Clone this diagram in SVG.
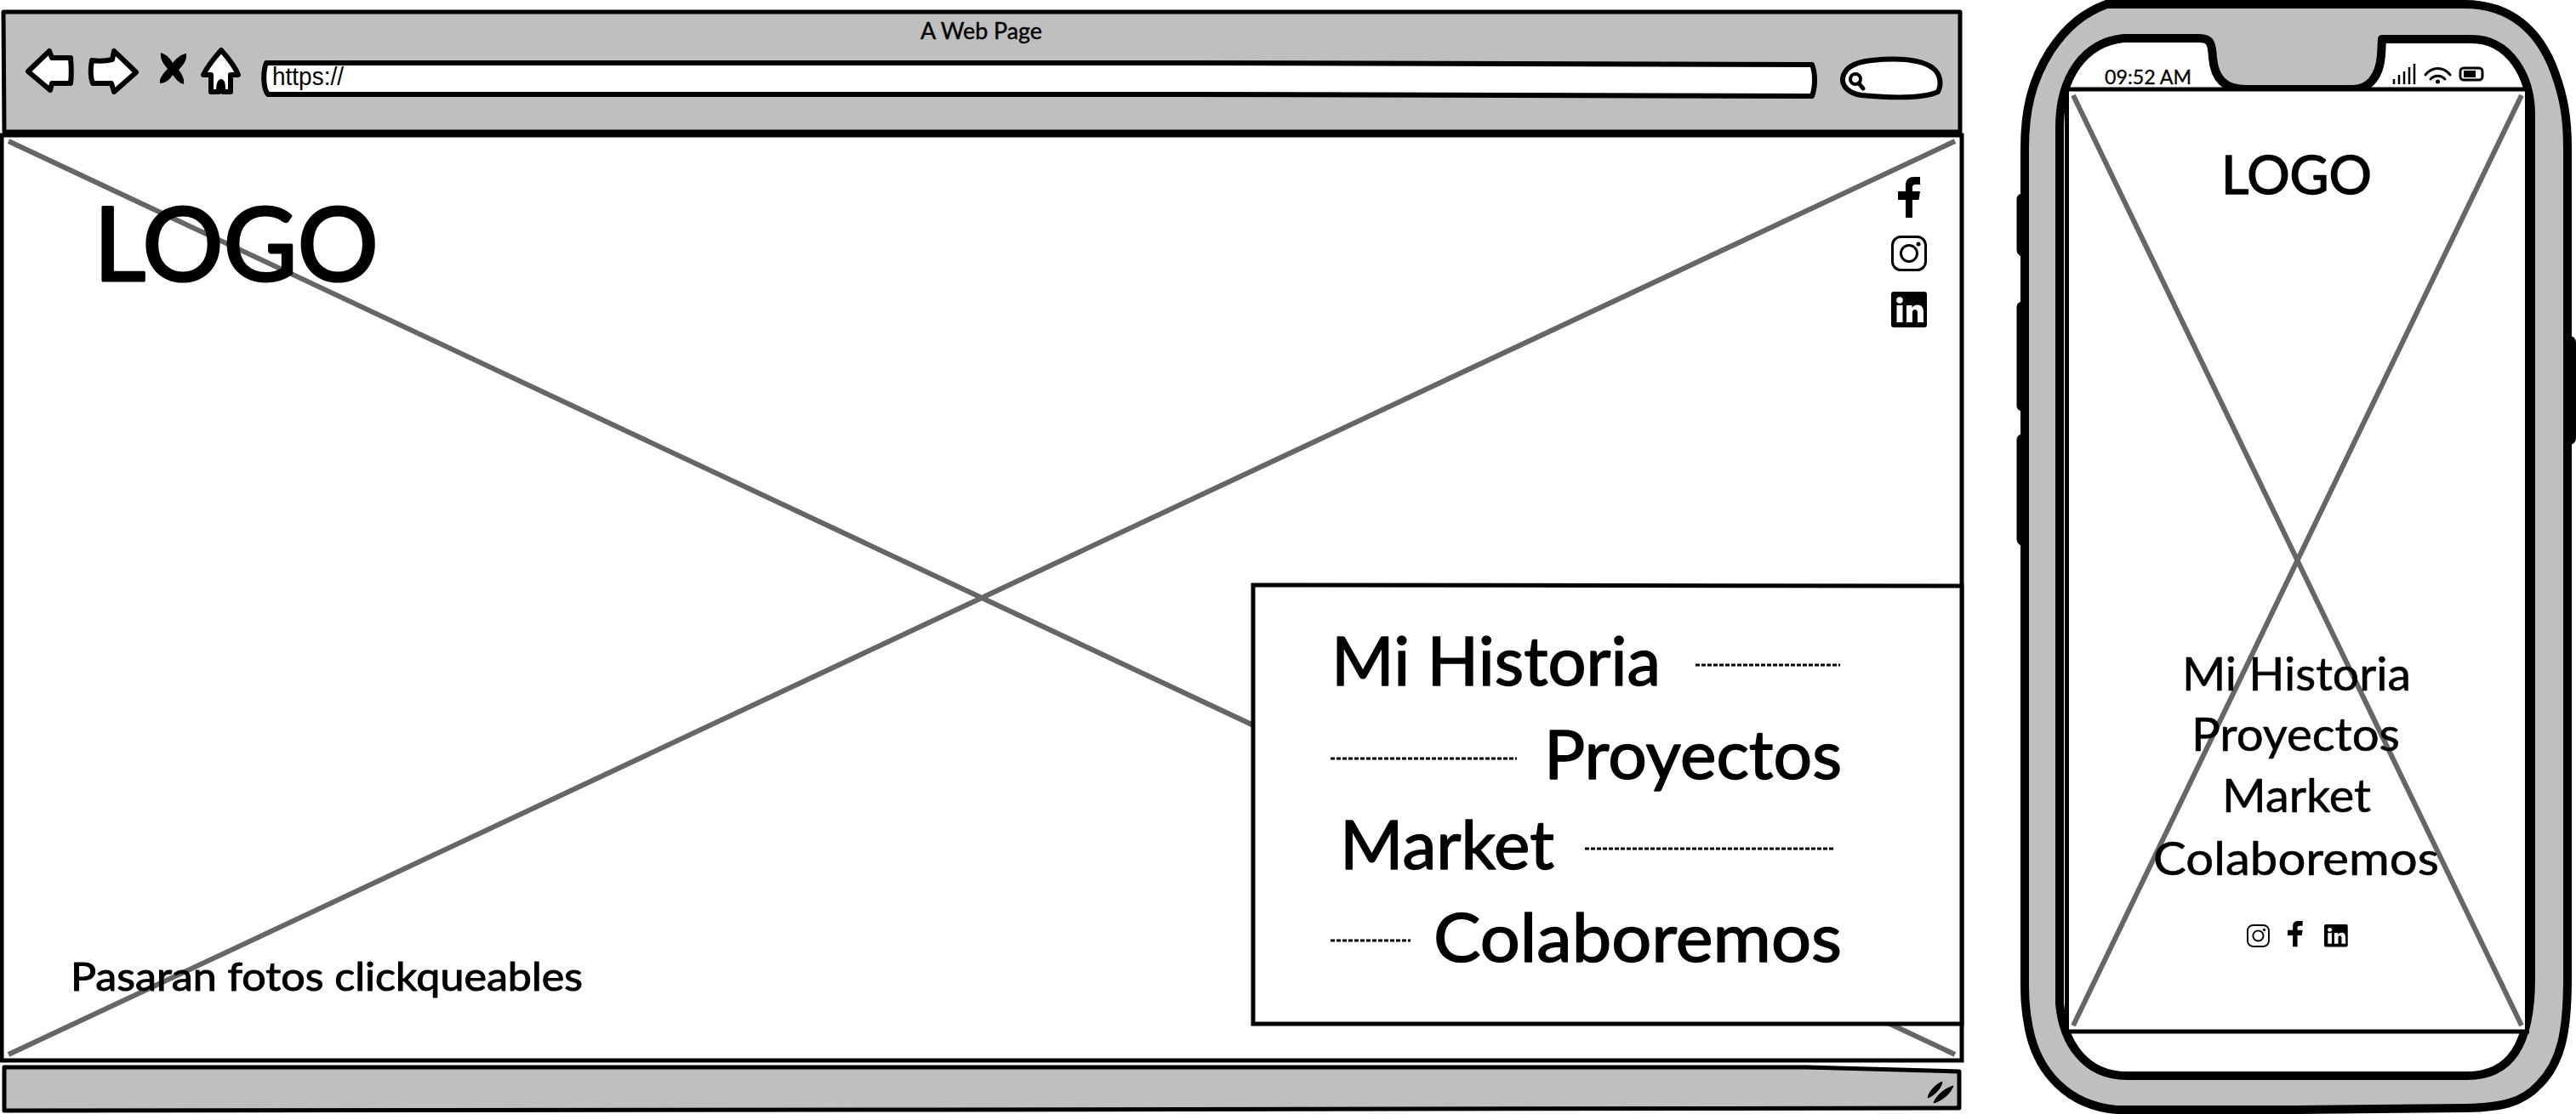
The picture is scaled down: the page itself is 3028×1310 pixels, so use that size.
<svg xmlns="http://www.w3.org/2000/svg" width="3028" height="1310" viewBox="0 0 3028 1310">
<style>
.bar{fill:#bfbfbf;stroke:#000;stroke-width:5;stroke-linejoin:round}
.ic{fill:#fff;stroke:#000;stroke-width:6;stroke-linejoin:round;stroke-linecap:round}
.frame{fill:#fff;stroke:#000;stroke-width:5}
.x{stroke:#666;stroke-width:6;fill:none}
.dot{stroke:#000;stroke-width:3;stroke-dasharray:5 2;fill:none}
.t{font-family:"Lato","Noto Sans",sans-serif;fill:#000;stroke:#000;stroke-linejoin:round;stroke-linecap:round}
.a{font-family:"Liberation Sans",Arial,sans-serif;fill:#000}
</style>
<defs>
<g id="fb"><path d="M9 48V27H0V17H9V10C9 3 13 0 19 0H26V9H21C18 9 17 10 17 13V17H26L24.500 27H17V48Z" fill="#000"/></g>
<g id="ig"><rect x="1.500" y="1.500" width="39" height="39" rx="10" fill="#fff" stroke="#000" stroke-width="3"/><circle cx="21" cy="21" r="9.500" fill="none" stroke="#000" stroke-width="3"/><circle cx="32" cy="10" r="2.500" fill="#000"/></g>
<g id="li"><rect width="42" height="42" rx="3" fill="#000"/><circle cx="10" cy="10" r="3.800" fill="#fff"/><rect x="6.500" y="16" width="7" height="20" fill="#fff"/><path d="M18 16H24.500V19C26 17 28 15.500 31 15.500C36 15.500 38 19 38 24V36H31V25C31 22.500 30 21 28 21C26 21 25 22.500 25 25V36H18Z" fill="#fff"/></g>
</defs>

<g id="browser-top">
<path class="bar" d="M4 14H2304V155H5Z"/>
<path class="ic" d="M33 84L58 60L61 68H83C84 80 84 90 83 98H61L59 106Z"/>
<path class="ic" d="M160 85L134 60L132 70C124 72 116 72 108 71C106 82 106 90 109 98H131L134 108Z"/>
<path d="M189 62C196 64 201 70 203 74C206 70 212 64 219 63C220 72 214 78 210 82C214 87 217 93 216 99C210 98 205 91 203 88C201 92 195 98 188 98C187 92 192 86 197 81C193 76 188 70 189 62Z" fill="#000"/>
<path class="ic" d="M260 59C268 68 277 80 280 88H271V108H262C262 102 262 97 260 96C258 96 257 102 257 108H248V88H239C244 78 252 68 260 59Z"/>
<path class="ic" d="M313 74H1400L2130 76C2134 86 2134 102 2130 113L1400 111H315C309 104 309 84 313 74Z"/>
<text class="a" x="320" y="100" font-size="29" textLength="84" lengthAdjust="spacingAndGlyphs">https://</text>
<path class="ic" d="M2200 71C2230 68 2258 70 2272 80C2282 88 2282 100 2278 108C2260 116 2220 115 2188 112C2174 110 2165 102 2166 92C2168 80 2180 73 2200 71Z"/>
<circle cx="2181" cy="93" r="6" fill="none" stroke="#000" stroke-width="4"/>
<path d="M2185 98L2190 104" stroke="#000" stroke-width="5" stroke-linecap="round"/>
<text class="t" x="1082" y="46" font-size="26" stroke-width=".4" textLength="143" lengthAdjust="spacingAndGlyphs">A Web Page</text>
</g>

<g id="browser-image">
<rect class="frame" x="2" y="159" width="2304" height="1088"/>
<path class="x" d="M10 166L2298 1240M2298 166L10 1240"/>
</g>

<g id="browser-bottom">
<path class="bar" d="M5 1255H1100L2123 1255L2303 1260V1303L1100 1305L5 1306Z"/>
<path d="M2266 1291C2268 1282 2276 1275 2283 1272C2282 1280 2274 1288 2266 1291ZM2273 1297C2276 1288 2286 1280 2296 1277C2292 1287 2283 1294 2273 1297Z" fill="#000" stroke="#000" stroke-width="1"/>
</g>

<g id="logo"><text class="t" x="110" y="330" font-size="120" stroke-width="3" textLength="335" lengthAdjust="spacingAndGlyphs">LOGO</text></g>

<g id="social">
<use href="#fb" x="2231" y="208"/>
<use href="#ig" x="2223" y="277"/>
<use href="#li" x="2223" y="343"/>
</g>

<g id="caption"><text class="t" x="83" y="1165" font-size="46" stroke-width="1" textLength="602" lengthAdjust="spacingAndGlyphs">Pasaran fotos clickqueables</text></g>

<g id="menu">
<path class="frame" d="M1473 688L2306 689V1204H1473Z"/>
<text class="t" x="1565" y="806" font-size="80" stroke-width="1.500" textLength="387" lengthAdjust="spacingAndGlyphs">Mi Historia</text>
<path class="dot" d="M1993 782H2163"/>
<path class="dot" d="M1564 892H1783"/>
<text class="t" x="1815" y="916" font-size="80" stroke-width="1.500" textLength="350" lengthAdjust="spacingAndGlyphs">Proyectos</text>
<text class="t" x="1575" y="1022" font-size="80" stroke-width="1.500" textLength="252" lengthAdjust="spacingAndGlyphs">Market</text>
<path class="dot" d="M1863 998H2157"/>
<path class="dot" d="M1564 1106H1658"/>
<text class="t" x="1685" y="1131" font-size="80" stroke-width="1.500" textLength="480" lengthAdjust="spacingAndGlyphs">Colaboremos</text>
</g>

<g id="phone">
<path d="M2371 234Q2371 228 2378 228V302Q2371 300 2371 294ZM2371 361Q2371 355 2378 355V483Q2371 483 2371 477ZM2371 517Q2371 511 2378 511V642Q2371 640 2371 634Z" fill="#000" stroke="#000" stroke-width="1"/>
<path d="M3018 395H3022Q3028 397 3028 403V515Q3028 521 3022 523H3018Z" fill="#000"/>
<path d="M2476 5H2897C2950 5 2985 35 3003 85C3014 115 3018 140 3018 175V1150C3018 1215 3010 1250 2985 1275C2965 1297 2940 1302 2900 1303L2700 1305H2488C2430 1300 2395 1260 2385 1210C2380 1185 2380 1170 2380 1150V175C2380 130 2388 95 2410 60C2430 30 2450 15 2476 5Z" fill="#bfbfbf" stroke="#000" stroke-width="10" stroke-linejoin="round"/>
<path d="M2496 45H2585C2598 45 2600 50 2601 68C2603 92 2615 105 2640 105H2765C2785 105 2797 90 2799 65L2800 46H2905C2950 46 2975 90 2975 135V1150C2975 1230 2950 1265 2900 1265H2500C2450 1265 2425 1225 2421 1180V150C2421 90 2450 50 2496 45Z" fill="#fff" stroke="#000" stroke-width="10" stroke-linejoin="round"/>
</g>

<g id="phone-image">
<rect x="2429.500" y="105" width="541" height="1108" fill="#fff" stroke="#000" stroke-width="5"/>
<path class="x" d="M2437 112L2964 1206M2964 112L2437 1206"/>
</g>

<g id="status">
<text class="t" x="2474" y="99" font-size="24" stroke-width=".3" textLength="102" lengthAdjust="spacingAndGlyphs">09:52 AM</text>
<path d="M2814 99V93M2820 99V88M2826 99V84M2832 99V79M2838 99V75" stroke="#000" stroke-width="2.500" fill="none"/>
<path d="M2851 88C2859 78 2872 78 2880 88M2857 93C2862 88 2869 88 2874 93" stroke="#000" stroke-width="3" fill="none" stroke-linecap="round"/>
<circle cx="2865.500" cy="96" r="2.500" fill="#000"/>
<rect x="2892" y="80" width="26" height="14" rx="4" fill="none" stroke="#000" stroke-width="3"/>
<rect x="2896" y="83" width="14" height="8" fill="#000"/>
</g>

<g id="phone-logo"><text class="t" x="2611" y="228" font-size="62" stroke-width="1.500" textLength="177" lengthAdjust="spacingAndGlyphs">LOGO</text></g>

<g id="phone-menu">
<text class="t" x="2565" y="812" font-size="55" stroke-width=".6" textLength="269" lengthAdjust="spacingAndGlyphs">Mi Historia</text>
<text class="t" x="2576" y="883" font-size="55" stroke-width=".6" textLength="245" lengthAdjust="spacingAndGlyphs">Proyectos</text>
<text class="t" x="2612" y="955" font-size="55" stroke-width=".6" textLength="175" lengthAdjust="spacingAndGlyphs">Market</text>
<text class="t" x="2531" y="1029" font-size="55" stroke-width=".6" textLength="336" lengthAdjust="spacingAndGlyphs">Colaboremos</text>
</g>

<g id="phone-social">
<use href="#ig" transform="translate(2641 1087) scale(.64)"/>
<use href="#fb" transform="translate(2689 1083) scale(.68 .63)"/>
<use href="#li" transform="translate(2732 1087) scale(.66 .63)"/>
</g>
</svg>
